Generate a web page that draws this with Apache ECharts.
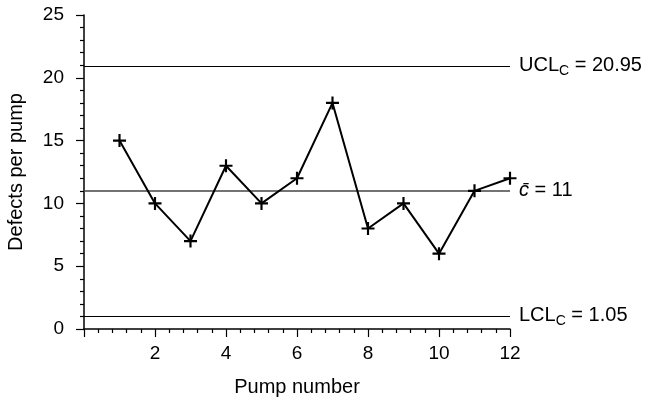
<!DOCTYPE html>
<html>
<head>
<meta charset="utf-8">
<script src="https://cdn.jsdelivr.net/npm/echarts@6/dist/echarts.min.js"></script>
<style>
  html, body { margin: 0; padding: 0; background: #fff; }
  #chart { width: 652px; height: 399px; }
</style>
</head>
<body>
<div id="chart"></div>
<script>
// c-chart: defects counted on each pump
const pumpNumbers = [1, 2, 3, 4, 5, 6, 7, 8, 9, 10, 11, 12];
const defects = [15, 10, 7, 13, 10, 12, 18, 8, 10, 6, 11, 12];
const ucl = 20.95;
const centerLine = 11;
const lcl = 1.05;

const FONT = '"Liberation Sans", Arial, Helvetica, sans-serif';
const plusPath = 'path://M5,0 H7 V5 H12 V7 H7 V12 H5 V7 H0 V5 H5 Z';

const chart = echarts.init(document.getElementById('chart'), null, { renderer: 'canvas' });

const limitLabel = (fmt) => ({
  show: true,
  position: 'end',
  distance: 9,
  formatter: fmt,
  color: '#000',
  fontFamily: FONT,
  fontSize: 20,
  rich: {
    a: { fontFamily: FONT, fontSize: 20, color: '#000' },
    s: { fontFamily: FONT, fontSize: 14, color: '#000', padding: [11, 0, 0, 0] },
    c: { fontFamily: FONT, fontSize: 20, color: '#000', fontStyle: 'italic' }
  }
});

chart.setOption({
  animation: false,
  backgroundColor: '#fff',
  grid: { left: 84, right: 142, top: 15, bottom: 70, containLabel: false, outerBoundsMode: 'none' },
  xAxis: {
    type: 'value',
    min: 0, max: 12, interval: 2,
    name: 'Pump number',
    nameLocation: 'middle',
    nameGap: 48,
    nameTextStyle: { fontFamily: FONT, fontSize: 20, color: '#000' },
    axisLine: { show: true, onZero: false, lineStyle: { color: '#000', width: 1.5 } },
    axisTick: { show: true, length: 8, lineStyle: { color: '#000', width: 1.2 } },
    minorTick: { show: true, splitNumber: 5, length: 4, lineStyle: { color: '#000', width: 1.2 } },
    axisLabel: { showMinLabel: false, margin: 15, fontFamily: FONT, fontSize: 19, color: '#000' },
    splitLine: { show: false }
  },
  yAxis: {
    type: 'value',
    min: 0, max: 25, interval: 5,
    name: 'Defects per pump',
    nameLocation: 'middle',
    nameGap: 58,
    nameTextStyle: { fontFamily: FONT, fontSize: 20, color: '#000' },
    axisLine: { show: true, onZero: false, lineStyle: { color: '#000', width: 1.5 } },
    axisTick: { show: true, length: 8, lineStyle: { color: '#000', width: 1.2 } },
    minorTick: { show: true, splitNumber: 5, length: 4, lineStyle: { color: '#000', width: 1.2 } },
    axisLabel: { margin: 20, fontFamily: FONT, fontSize: 19, color: '#000' },
    splitLine: { show: false }
  },
  series: [{
    type: 'line',
    data: pumpNumbers.map((p, i) => [p, defects[i]]),
    symbol: plusPath,
    symbolSize: 13,
    showAllSymbol: true,
    lineStyle: { color: '#000', width: 2 },
    itemStyle: { color: '#000' },
    z: 5,
    markLine: {
      silent: true,
      symbol: 'none',
      animation: false,
      data: [
        { yAxis: ucl, lineStyle: { color: '#000', width: 1.2, type: 'solid' },
          label: limitLabel('{a|UCL}{s|C}{a| = ' + ucl.toFixed(2) + '}') },
        { yAxis: centerLine, lineStyle: { color: '#444', width: 1.5, type: 'solid' },
          label: limitLabel('{c|c\u0304}{a| = ' + centerLine + '}') },
        { yAxis: lcl, lineStyle: { color: '#000', width: 1.2, type: 'solid' },
          label: limitLabel('{a|LCL}{s|C}{a| = ' + lcl.toFixed(2) + '}') }
      ]
    }
  }]
});
</script>
</body>
</html>
